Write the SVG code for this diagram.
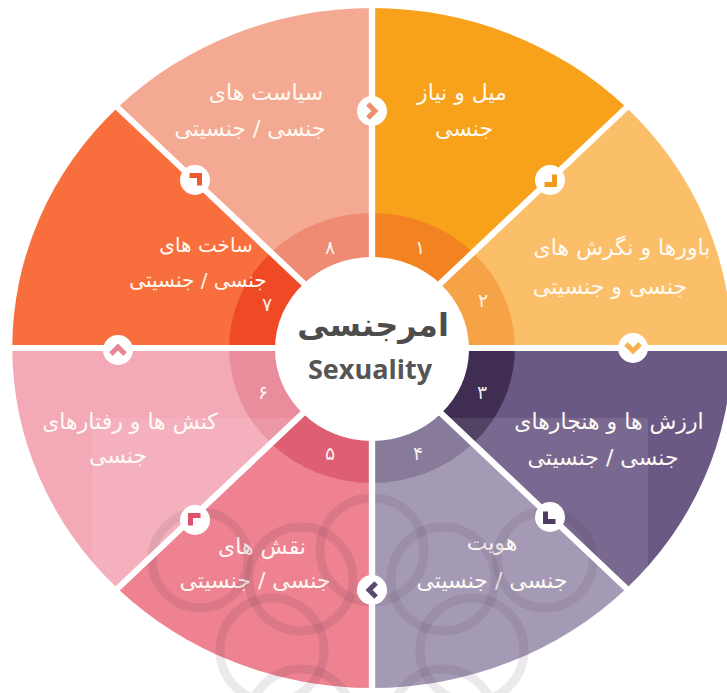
<svg xmlns="http://www.w3.org/2000/svg" width="727" height="693" viewBox="0 0 727 693">
<defs>
<style>
.lbl{font-family:"DejaVu Sans","Noto Sans",sans-serif;font-size:22px;fill:#fffaf4;text-anchor:middle}
.sm{font-size:20px}
.num{font-family:"DejaVu Sans","Noto Sans",sans-serif;font-size:19px;fill:#ffffff;fill-opacity:0.92;text-anchor:middle}
.sep{stroke:#ffffff;stroke-width:6;fill:none}
.chev{fill:none;stroke-width:5;stroke-linecap:butt;stroke-linejoin:miter}
.wm{fill:none;stroke:#3a2a3a;stroke-opacity:0.1;stroke-width:9}
</style>
<path id="chevshape" d="M-6.5,3.5 L3.5,3.5 L3.5,-6.5"/>
</defs>
<rect width="727" height="693" fill="#ffffff"/>

<g id="node-1">
<g transform="translate(372,348) scale(1.058,1)">
<path d="M0,0 L0,-340 A340,340 0 0 1 240.42,-240.42 Z" fill="#F8A11B"/>
<path d="M0,0 L0,-135 A135,135 0 0 1 95.46,-95.46 Z" fill="#F38220"/>
</g>
<text class="lbl" x="462" y="100">میل و نیاز</text>
<text class="lbl" x="464" y="136">جنسی</text>
<text class="num" x="420" y="254">۱</text>
</g>

<g id="node-2">
<g transform="translate(372,348) scale(1.058,1)">
<path d="M0,0 L240.42,-240.42 A340,340 0 0 1 340,0 Z" fill="#FBBF6A"/>
<path d="M0,0 L95.46,-95.46 A135,135 0 0 1 135,0 Z" fill="#F6A347"/>
</g>
<text class="lbl" x="622" y="255">باورها و نگرش های</text>
<text class="lbl" x="610" y="294">جنسی و جنسیتی</text>
<text class="num" x="483" y="307">۲</text>
</g>

<g id="node-3">
<g transform="translate(372,348) scale(1.058,1)">
<path d="M0,0 L340,0 A340,340 0 0 1 240.42,240.42 Z" fill="#6A5984"/>
<path d="M0,0 L135,0 A135,135 0 0 1 95.46,95.46 Z" fill="#3F2D52"/>
</g>
<text class="lbl" x="609" y="429">ارزش ها و هنجارهای</text>
<text class="lbl" x="603" y="465">جنسی / جنسیتی</text>
<text class="num" x="482" y="399">۳</text>
</g>

<g id="node-4">
<g transform="translate(372,348) scale(1.058,1)">
<path d="M0,0 L240.42,240.42 A340,340 0 0 1 0,340 Z" fill="#9B8FAD"/>
<path d="M0,0 L95.46,95.46 A135,135 0 0 1 0,135 Z" fill="#7B6D8E"/>
</g>
<text class="lbl" x="492" y="550">هویت</text>
<text class="lbl" x="492" y="588">جنسی / جنسیتی</text>
<text class="num" x="418" y="460">۴</text>
</g>

<g id="node-5">
<g transform="translate(372,348) scale(1.058,1)">
<path d="M0,0 L0,340 A340,340 0 0 1 -240.42,240.42 Z" fill="#EC7485"/>
<path d="M0,0 L0,135 A135,135 0 0 1 -95.46,95.46 Z" fill="#DC4D63"/>
</g>
<text class="lbl" x="262" y="554">نقش های</text>
<text class="lbl" x="255" y="588">جنسی / جنسیتی</text>
<text class="num" x="330" y="460">۵</text>
</g>

<g id="node-6">
<g transform="translate(372,348) scale(1.058,1)">
<path d="M0,0 L-240.42,240.42 A340,340 0 0 1 -340,0 Z" fill="#F3A9B6"/>
<path d="M0,0 L-95.46,95.46 A135,135 0 0 1 -135,0 Z" fill="#E98C9C"/>
</g>
<text class="lbl" x="130" y="429">کنش ها و رفتارهای</text>
<text class="lbl" x="118" y="463">جنسی</text>
<text class="num" x="263" y="399">۶</text>
</g>

<g id="node-7">
<g transform="translate(372,348) scale(1.058,1)">
<path d="M0,0 L-340,0 A340,340 0 0 1 -240.42,-240.42 Z" fill="#F86E3C"/>
<path d="M0,0 L-135,0 A135,135 0 0 1 -95.46,-95.46 Z" fill="#EF4A25"/>
</g>
<text class="lbl sm" x="206" y="252">ساخت های</text>
<text class="lbl sm" x="198" y="287">جنسی / جنسیتی</text>
<text class="num" x="267" y="311">۷</text>
</g>

<g id="node-8">
<g transform="translate(372,348) scale(1.058,1)">
<path d="M0,0 L-240.42,-240.42 A340,340 0 0 1 0,-340 Z" fill="#F4AA92"/>
<path d="M0,0 L-95.46,-95.46 A135,135 0 0 1 0,-135 Z" fill="#EE8B72"/>
</g>
<text class="lbl" x="266" y="100">سیاست های</text>
<text class="lbl" x="250" y="136">جنسی / جنسیتی</text>
<text class="num" x="330" y="254">۸</text>
</g>

<g id="watermark">
<rect x="92" y="418" width="556" height="275" fill="#ffffff" fill-opacity="0.1"/>
<circle class="wm" cx="472" cy="650" r="52"/>
<circle class="wm" cx="443" cy="579" r="52"/>
<circle class="wm" cx="372" cy="550" r="52"/>
<circle class="wm" cx="301" cy="579" r="52"/>
<circle class="wm" cx="272" cy="650" r="52"/>
<circle class="wm" cx="301" cy="721" r="52"/>
<circle class="wm" cx="443" cy="721" r="52"/>
<circle class="wm" cx="545" cy="560" r="48"/>
<circle class="wm" cx="200" cy="560" r="48"/>
</g>

<g id="connectors">
<g transform="translate(372,348) scale(1.058,1)">
<line class="sep" x1="0" y1="-350" x2="0" y2="350"/>
<line class="sep" x1="-350" y1="0" x2="350" y2="0"/>
<line class="sep" x1="-247" y1="-247" x2="247" y2="247"/>
<line class="sep" x1="-247" y1="247" x2="247" y2="-247"/>
</g>
<g fill="#ffffff">
<circle cx="372" cy="111" r="15"/>
<circle cx="550" cy="180" r="15"/>
<circle cx="633" cy="348" r="15"/>
<circle cx="550" cy="517" r="15"/>
<circle cx="372" cy="590" r="15"/>
<circle cx="195" cy="520" r="15"/>
<circle cx="118" cy="350" r="15"/>
<circle cx="195" cy="180" r="15"/>
</g>
<use href="#chevshape" class="chev" stroke="#EF8E6E" transform="translate(370,111) rotate(315)"/>
<use href="#chevshape" class="chev" stroke="#F39A1A" transform="translate(551,181) rotate(0)"/>
<use href="#chevshape" class="chev" stroke="#F6B04F" transform="translate(633,346) rotate(45)"/>
<use href="#chevshape" class="chev" stroke="#4E3C63" transform="translate(549,518) rotate(90)"/>
<use href="#chevshape" class="chev" stroke="#5A4A6D" transform="translate(374,590) rotate(135)"/>
<use href="#chevshape" class="chev" stroke="#E0506A" transform="translate(194,519) rotate(180)"/>
<use href="#chevshape" class="chev" stroke="#E88599" transform="translate(118,352) rotate(225)"/>
<use href="#chevshape" class="chev" stroke="#EE5A2E" transform="translate(196,179) rotate(270)"/>
</g>

<g id="center">
<ellipse cx="372" cy="349" rx="97" ry="92" fill="#ffffff"/>
<text x="373" y="336" font-family="DejaVu Sans, sans-serif" font-weight="bold" font-size="32" fill="#4d4d4d" text-anchor="middle">امرجنسی</text>
<text x="370" y="379" font-family="Open Sans, sans-serif" font-weight="bold" font-size="27" fill="#555555" text-anchor="middle">Sexuality</text>
</g>
</svg>
